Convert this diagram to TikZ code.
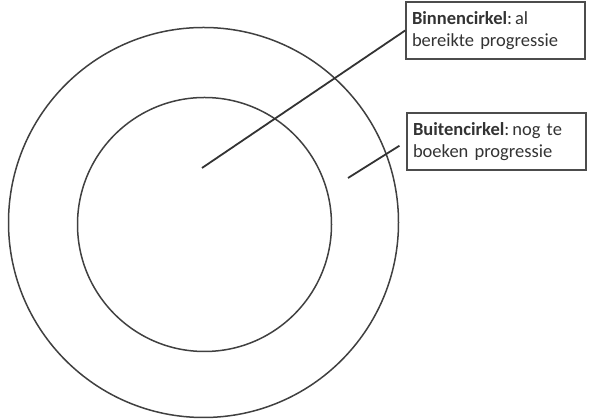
\documentclass[tikz,border=0pt]{standalone}
\usepackage{fontspec}
\setmainfont{Carlito}
\usetikzlibrary{positioning}

\begin{document}
\begin{tikzpicture}[
  x=1pt, y=1pt,
  ring/.style={draw=black!75, line width=1.5pt},
  label box/.style={draw=black!70, line width=1.6pt, align=left, font=\fontsize{18.5}{22}\selectfont,
              text=black!80, text width=167pt, inner sep=6pt, minimum height=57pt},
  pointer/.style={draw=black!80, line width=1.8pt}]
\useasboundingbox (0,0) rectangle (592,419);
% the two rings
\node[ring, circle, minimum size=390pt, inner sep=0pt] (outer) at (203.5,196.5) {};
\node[ring, circle, minimum size=254pt, inner sep=0pt] (inner) at (204.5,194.5) {};
% labels
\node[label box] (binnen) at (495.5,388.5) {\textbf{Binnencirkel}:\,al\\bereikte progressie};
\node[label box] (buiten) at (496.5,277.5) {\textbf{Buitencirkel}:\,nog te\\boeken progressie};
\coordinate (binnen end) at (202,251);
\coordinate (buiten end) at (348,241);
\draw[pointer] (binnen end) -- (binnen.west);
\draw[pointer, shorten >=8pt] (buiten end) -- (buiten.west);
\end{tikzpicture}
\end{document}
